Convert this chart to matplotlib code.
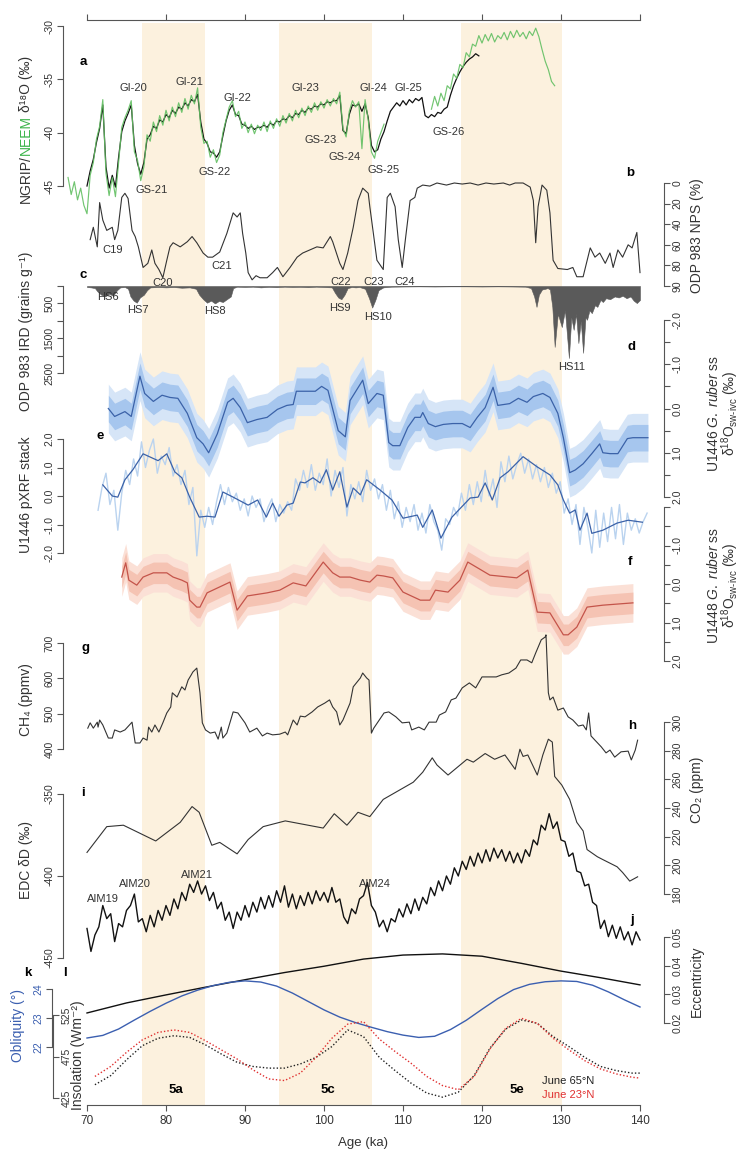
import numpy as np
import matplotlib
matplotlib.use("Agg")
import matplotlib.pyplot as plt

plt.rcParams['font.family'] = ['Liberation Sans', 'DejaVu Sans']
plt.rcParams['mathtext.fontset'] = 'custom'
plt.rcParams['mathtext.rm'] = 'Liberation Sans'
plt.rcParams['mathtext.it'] = 'Liberation Sans:italic'
plt.rcParams['mathtext.bf'] = 'Liberation Sans:bold'

# ====================== DATA ======================
x_ticks = [70, 80, 90, 100, 110, 120, 130, 140]
band_start = [77.0, 94.3, 117.3]
band_end = [84.9, 106.1, 130.1]
band_names = ["5a", "5c", "5e"]

# (a) NEEM / NGRIP d18O (permil), regular sampling
neem_step = 0.4
neem1_start = 67.6
neem1 = [-44.2, -45.8, -44.6, -46.3, -45.2, -46.8, -47.6, -44.0, -42.8, -40.6,
         -39.4, -36.9, -43.8, -45.9, -44.2, -46.0, -42.8, -39.5, -38.6, -37.9,
         -37.0, -41.8, -42.6, -44.5, -43.2, -40.2, -40.8, -39.0, -39.9, -38.4,
         -39.3, -37.9, -38.9, -37.6, -38.5, -37.2, -38.1, -36.8, -37.8, -36.5,
         -37.3, -35.8, -39.5, -41.0, -40.8, -42.3, -41.6, -42.8, -42.1, -40.0,
         -38.8, -37.6, -37.0, -38.5, -38.0, -39.6, -39.0, -40.0, -39.2, -40.1,
         -39.3, -39.8, -39.0, -39.9, -38.9, -39.6, -38.7, -39.4, -38.4, -39.1,
         -38.2, -38.9, -37.9, -38.6, -37.7, -38.4, -37.5, -38.1, -37.2, -37.9,
         -37.1, -37.7, -36.9, -37.5, -36.8, -37.3, -36.2, -39.6, -40.4, -38.0,
         -37.0, -37.6, -37.1, -41.5, -36.9, -38.8, -41.8, -42.4, -40.8, -40.0,
         -39.2]
neem2_start = 113.6
neem2 = [-37.8, -36.6, -37.5, -36.3, -37.0, -35.6, -35.9, -34.5, -34.9, -33.6,
         -33.9, -32.5, -32.9, -31.7, -31.9, -30.9, -31.6, -30.8, -31.4, -30.7,
         -31.5, -30.9, -31.2, -30.6, -31.3, -30.5, -31.1, -30.4, -31.0, -30.6,
         -31.2, -30.5, -30.9, -30.2, -31.0, -32.2, -33.3, -34.1, -35.2, -35.6]
ngrip_start = 70.0
ngrip = [-45.0, -43.6, -42.5, -40.9, -39.6, -37.4, -43.2, -45.2, -44.0, -45.1,
         -42.3, -39.9, -38.9, -38.2, -37.4, -41.2, -42.9, -43.9, -42.8, -40.6,
         -40.2, -39.4, -39.6, -38.8, -39.0, -38.3, -38.6, -37.9, -38.2, -37.6,
         -37.8, -37.2, -37.5, -36.9, -37.1, -36.4, -39.0, -40.6, -41.0, -41.8,
         -41.9, -42.3, -41.8, -40.3, -38.9, -37.9, -37.4, -38.3, -38.4, -39.2,
         -39.3, -39.6, -39.4, -39.7, -39.5, -39.5, -39.3, -39.5, -39.1, -39.3,
         -38.9, -39.0, -38.7, -38.8, -38.4, -38.6, -38.2, -38.3, -37.9, -38.1,
         -37.7, -37.8, -37.5, -37.6, -37.3, -37.4, -37.1, -37.2, -37.0, -37.0,
         -36.5, -39.8, -40.1, -38.3, -37.4, -37.5, -37.3, -38.0, -37.3, -38.6,
         -41.2, -41.8, -41.6, -40.6, -39.9, -38.9, -38.0, -37.6, -37.2, -37.5,
         -37.0, -37.4, -36.9, -37.2, -36.8, -37.0, -36.7, -38.4, -38.6, -38.3,
         -38.5, -38.1, -38.2, -37.8, -37.6, -36.5, -35.6, -34.9, -34.3, -33.8,
         -33.4, -33.1, -32.9, -32.6, -32.8]

# (b) ODP 983 NPS (%)
nps_age = [70.4, 70.8, 71.3, 71.6, 72.0, 72.5, 73.2, 73.5, 73.9, 74.4, 74.8, 75.2, 75.7, 76.1,
           76.5, 77.1, 77.7, 78.2, 78.6, 79.1, 79.6, 80.1, 80.5, 80.9, 81.8, 82.7, 83.3, 83.9,
           84.7, 85.3, 85.9, 86.8, 87.7, 88.5, 89.0, 89.4, 89.7, 90.1, 90.4, 90.9, 91.4, 91.9,
           92.8, 93.5, 94.1, 94.8, 95.7, 96.6, 97.3, 98.2, 99.1, 99.9, 100.8, 101.1, 102.0,
           102.4, 103.0, 103.7, 104.3, 104.9, 105.6, 105.8, 106.7, 107.5, 108.0, 108.4, 109.0,
           109.4, 109.9, 110.3, 110.9, 111.5, 111.8, 112.5, 113.4, 114.3, 115.5, 116.5, 117.5,
           118.5, 119.5, 120.5, 121.5, 122.7, 123.5, 124.2, 125.2, 126.1, 126.5, 126.8, 127.1,
           127.6, 128.2, 128.6, 129.0, 129.6, 130.8, 131.5, 132.0, 132.8, 133.7, 134.3, 134.9,
           135.6, 136.2, 136.6, 137.2, 137.8, 138.5, 139.0, 139.6, 140.0]
nps_val = [55, 43, 62, 19, 36, 46, 43, 55, 46, 14, 10, 15, 46, 52, 62, 82, 78, 65, 78, 84,
           92, 75, 62, 58, 62, 57, 52, 58, 68, 72, 72, 67, 49, 29, 33, 29, 49, 68, 87, 94,
           90, 92, 92, 87, 82, 91, 82, 72, 68, 65, 62, 63, 52, 57, 78, 84, 68, 43, 17, 5,
           10, 23, 75, 84, 14, 10, 23, 55, 82, 55, 17, 14, 5, 2, 3, 0, 2, 0, 1, 0,
           2, 0, 1, 0, 2, 0, 0, 4, 17, 58, 23, 2, 7, 29, 75, 83, 84, 82, 91, 91,
           63, 72, 68, 78, 68, 82, 65, 72, 60, 63, 48, 87]
nps_ticks = [0, 20, 40, 60, 80, 100]
nps_ticklabels = ["0", "20", "40", "60", "80", "90"]

# (c) ODP 983 IRD (grains/g)
ird_age = [70.0, 70.5, 71.0, 71.3, 71.8, 72.3, 72.8, 73.3, 73.8, 74.2, 74.8, 75.2, 75.5, 75.9,
           76.3, 76.7, 77.2, 77.6, 78.0, 79.0, 80.0, 81.0, 82.0, 83.0, 83.8, 84.2, 84.7, 85.2,
           85.7, 86.2, 86.7, 87.2, 87.7, 88.2, 88.5, 89.0, 90.0, 91.0, 92.0, 93.0, 94.0, 95.0,
           96.0, 97.0, 98.0, 99.0, 100.0, 101.0, 101.4, 101.8, 102.2, 102.6, 103.0, 103.5,
           104.0, 104.5, 105.2, 105.7, 106.1, 106.5, 106.9, 107.5, 108.5, 110.0, 112.0, 114.0,
           116.0, 118.0, 120.0, 122.0, 124.0, 125.5, 126.2, 126.6, 126.9, 127.2, 127.6, 128.0,
           128.3, 128.6, 128.9, 129.2, 129.6, 130.1, 130.5, 131.0, 131.3, 131.6, 131.9, 132.2,
           132.5, 132.8, 133.1, 133.3, 133.6, 133.9, 134.3, 134.6, 135.0, 135.3, 135.7, 136.2,
           136.8, 137.3, 137.8, 138.3, 138.8, 139.2, 139.6, 140.0]
ird_val = [30, 40, 60, 150, 250, 300, 220, 280, 120, 40, 30, 80, 300, 420, 480, 330, 250, 120,
           40, 30, 40, 30, 50, 40, 80, 250, 380, 480, 420, 500, 430, 460, 380, 300, 60, 20,
           30, 20, 40, 25, 35, 20, 30, 25, 35, 20, 30, 40, 200, 330, 380, 250, 60, 30, 40, 30,
           80, 350, 620, 400, 120, 40, 20, 15, 10, 15, 10, 10, 15, 10, 15, 20, 60, 300, 600,
           250, 100, 80, 60, 100, 600, 1750, 800, 1180, 700, 2070, 900, 1260, 800, 1640, 1000,
           1920, 900, 970, 700, 780, 550, 600, 400, 460, 350, 380, 300, 330, 280, 350, 300,
           420, 490, 400]

# (d) U1446 d18O sw-ivc
d_age = [72.7, 73.5, 74.8, 75.6, 76.7, 77.3, 78.4, 79.5, 80.5, 81.5, 82.7, 83.9, 84.7, 85.4,
         86.5, 87.8, 88.5, 89.4, 90.3, 91.5, 92.8, 94.1, 95.3, 96.1, 96.5, 98.9, 99.7, 100.5,
         101.8, 102.7, 103.3, 104.9, 105.6, 106.7, 107.5, 108.2, 108.7, 109.6, 110.6, 111.5,
         112.2, 112.5, 113.2, 114.1, 115.1, 116.3, 117.5, 118.5, 119.4, 120.4, 121.4, 122.0,
         123.5, 124.6, 125.7, 126.5, 127.7, 128.6, 129.6, 130.3, 131.1, 131.8, 132.8, 133.9,
         134.9, 135.3, 136.2, 137.2, 138.4, 139.1, 141.0]
d_val = [0.00, 0.18, 0.07, 0.18, -0.73, -0.34, -0.16, -0.30, -0.25, -0.23, 0.11, 0.66, 0.80,
         1.00, 0.57, -0.14, -0.23, -0.02, 0.32, 0.25, 0.20, 0.02, -0.07, -0.09, -0.39, -0.39,
         -0.50, -0.41, 0.50, 0.64, -0.18, -0.64, -0.11, -0.34, -0.30, 0.77, 0.84, 0.84, 0.43,
         0.20, 0.20, 0.09, 0.34, 0.41, 0.36, 0.34, 0.34, 0.43, 0.20, -0.02, -0.48, -0.07,
         -0.11, -0.23, -0.14, -0.27, -0.34, -0.25, 0.11, 0.66, 1.45, 1.39, 1.25, 1.02, 0.80,
         1.00, 1.02, 1.02, 0.68, 0.66, 0.66]

# (e) U1446 pXRF stack
e_age = [72.0, 73.2, 73.9, 74.8, 75.8, 77.1, 79.0, 80.1, 81.1, 82.0, 83.0, 84.2, 85.2, 86.2,
         87.2, 88.5, 90.4, 91.6, 92.7, 93.5, 94.3, 95.3, 96.1, 97.0, 97.6, 98.6, 99.5, 100.3,
         101.1, 102.0, 102.9, 103.7, 104.6, 105.4, 107.1, 108.6, 110.0, 111.8, 112.5, 113.7,
         114.8, 116.2, 118.5, 119.5, 120.4, 121.3, 122.3, 123.3, 125.2, 127.0, 128.6, 129.6,
         130.3, 131.1, 131.8, 132.4, 133.3, 133.9, 135.3, 137.1, 138.5, 140.3]
e_val = [0.39, 0.00, -0.04, 0.57, 0.92, 1.48, 1.24, 1.48, 0.85, 0.64, -0.04, -0.74, -0.71,
         -0.74, 0.14, -0.04, -0.32, -0.14, -0.74, -0.25, -0.71, -0.32, -0.25, 0.49, 0.46, 0.64,
         0.46, 0.92, 0.21, 0.85, -0.39, 0.28, 0.04, 0.57, 0.21, -0.14, -0.78, -0.67, -1.10,
         -0.49, -1.48, -0.74, -0.07, -0.04, 0.46, -0.14, 0.64, 0.85, 1.38, 1.02, 0.74, 0.39,
         -0.14, -0.60, -0.49, -1.20, -0.60, -1.31, -1.20, -0.95, -0.85, -0.92]
e_raw_start, e_raw_step = 71.4, 0.5
e_raw = [-0.5, 0.3, 0.8, -0.3, 0.2, -1.2, 0.1, 0.9, 0.4, 1.3, 0.7, 1.9, 1.0, 1.6, 2.0, 0.8,
         1.4, 1.1, 1.7, 0.7, 1.1, 0.4, 0.9, -0.3, 0.3, -2.1, -0.5, -1.1, -0.4, -1.0, -0.2, 0.4,
         -0.3, 0.3, -0.2, 0.1, -0.5, -0.1, -0.7, 0.0, -0.4, -0.1, -0.9, -0.4, -0.1, -0.9, -0.3,
         -0.6, -0.2, -0.5, 0.6, 0.2, 0.9, 0.3, 1.1, 0.2, 0.8, 0.4, 1.3, 0.0, 0.9, 0.3, 1.0,
         -0.7, 0.4, -0.1, 0.5, -0.2, 0.9, 0.2, 0.6, -0.1, 0.4, -0.5, 0.2, -0.8, -0.2, -1.1,
         -0.4, -0.9, -0.3, -1.2, -0.6, -1.3, -0.3, -0.9, -1.2, -1.9, -0.8, -1.0, -0.4, -0.7,
         0.1, -0.5, 0.4, -0.3, 0.5, -0.2, 0.9, 0.0, 0.6, -0.4, 1.2, 0.5, 1.4, 0.6, 1.1, 1.5,
         0.8, 1.3, 0.6, 1.1, 0.5, 1.0, 0.3, 0.8, 0.1, 0.5, -0.6, -0.1, -1.0, -0.3, -1.7, -0.4,
         -1.1, -2.0, -0.5, -1.8, -0.6, -1.6, -0.4, -1.5, -0.3, -1.7, -0.6, -1.2, -0.8, -1.3,
         -0.9, -0.6]

# (f) U1448 d18O sw-ivc
f_age = [74.4, 74.9, 75.3, 76.3, 77.1, 78.4, 80.1, 80.9, 82.0, 82.7, 83.0, 83.9, 84.3, 85.2,
         88.1, 89.0, 90.3, 92.8, 94.4, 96.1, 97.7, 99.9, 101.1, 102.0, 103.3, 104.6, 105.8,
         106.7, 107.5, 108.7, 110.0, 112.2, 113.4, 114.1, 115.7, 117.2, 118.2, 121.0, 124.4,
         125.8, 127.0, 128.6, 130.3, 130.9, 132.0, 133.3, 135.3, 139.1]
f_val = [-0.18, -0.55, -0.10, 0.03, -0.18, -0.29, -0.29, -0.18, -0.10, -0.03, 0.42, 0.60,
         0.60, 0.23, -0.05, 0.68, 0.31, 0.23, 0.16, -0.03, 0.05, -0.57, -0.29, -0.18, -0.18,
         -0.10, -0.05, -0.23, -0.21, -0.16, 0.21, 0.42, 0.42, 0.16, 0.21, -0.10, -0.57, -0.23,
         -0.16, -0.36, 0.73, 0.75, 1.32, 1.32, 1.12, 0.60, 0.55, 0.49]

# (g) CH4 (ppbv)
ch4_age = [70.1, 70.4, 70.8, 71.3, 71.4, 71.6, 72.0, 72.7, 73.2, 73.5, 74.2, 74.8, 75.7, 76.1,
           76.7, 77.1, 77.6, 77.8, 78.2, 78.6, 79.1, 79.6, 80.1, 80.6, 80.8, 81.4, 82.0, 82.4,
           82.8, 83.2, 83.4, 83.9, 84.3, 84.6, 85.0, 85.6, 86.2, 86.6, 87.0, 87.2, 87.7, 88.5,
           89.1, 90.0, 90.6, 91.5, 92.2, 92.8, 93.5, 94.4, 95.1, 95.4, 96.1, 96.6, 97.0, 97.6,
           98.5, 99.2, 100.1, 100.7, 101.1, 101.6, 102.0, 102.4, 103.3, 103.7, 104.6, 104.9,
           105.4, 105.7, 106.0, 106.3, 107.6, 108.2, 109.1, 109.9, 110.8, 111.1, 112.0, 112.7,
           113.3, 114.2, 114.6, 115.4, 116.1, 116.7, 117.5, 118.4, 119.2, 120.0, 120.9, 121.8,
           122.5, 123.4, 124.3, 124.9, 125.7, 126.3, 126.8, 127.5, 128.0, 128.1, 128.4, 128.6,
           129.0, 129.6, 130.3, 130.9, 131.5, 132.2, 132.8, 133.2, 133.5, 133.8, 134.3, 135.1,
           135.7, 136.2, 136.8, 137.6, 138.5, 138.9, 139.4, 139.7]
ch4_val = [459, 474, 459, 476, 462, 482, 468, 431, 431, 454, 448, 454, 476, 417, 417, 431, 425,
           462, 448, 468, 448, 474, 502, 519, 559, 547, 576, 567, 595, 610, 618, 629, 559, 474,
           454, 445, 448, 428, 462, 431, 445, 505, 502, 474, 448, 459, 437, 445, 440, 442, 448,
           440, 482, 468, 493, 491, 505, 519, 530, 539, 519, 505, 468, 482, 530, 576, 601, 615,
           601, 595, 445, 459, 502, 505, 491, 474, 476, 454, 462, 454, 476, 476, 496, 505, 539,
           544, 573, 587, 573, 604, 604, 604, 610, 615, 629, 652, 652, 644, 672, 709, 717, 723,
           559, 539, 547, 510, 516, 491, 482, 465, 468, 454, 502, 437, 425, 406, 389, 397, 377,
           392, 394, 369, 397, 425]

# (h) CO2 (ppm)
co2_age = [70.0, 72.5, 74.6, 78.7, 81.8, 83.3, 84.2, 85.8, 86.8, 89.0, 90.4, 92.3, 95.1, 99.9,
           101.3, 102.9, 104.3, 105.8, 107.5, 111.3, 112.5, 113.7, 114.3, 115.7, 118.1, 118.9,
           120.4, 121.6, 122.9, 124.2, 124.8, 125.2, 125.8, 127.0, 127.7, 128.4, 128.9, 129.2,
           130.1, 131.1, 132.0, 132.8, 133.3, 134.6, 135.3, 137.1, 137.8, 138.7, 139.7]
co2_val = [209, 227, 228, 217, 230, 241, 237, 214, 216, 208, 218, 227, 231, 226, 236, 228, 237,
           234, 246, 258, 265, 275, 270, 263, 274, 272, 278, 274, 277, 267, 281, 276, 277, 263,
           277, 288, 286, 262, 256, 246, 230, 224, 211, 206, 204, 199, 195, 189, 192]

# (i) EDC dD (permil), regular sampling
edc_start, edc_step = 70.0, 0.5
edc = [-432, -446, -436, -431, -418, -426, -423, -440, -429, -431, -421, -418, -411, -428,
       -426, -434, -424, -431, -421, -427, -418, -424, -414, -420, -410, -415, -405, -410,
       -403, -411, -406, -415, -410, -420, -416, -427, -422, -432, -422, -427, -418, -425,
       -416, -422, -413, -420, -412, -419, -409, -416, -406, -419, -411, -420, -412, -418,
       -410, -417, -409, -415, -410, -416, -407, -416, -414, -425, -429, -420, -423, -414,
       -412, -404, -418, -422, -431, -427, -434, -426, -428, -420, -425, -417, -423, -414,
       -421, -413, -417, -407, -412, -403, -409, -400, -405, -395, -400, -391, -396, -388,
       -394, -386, -392, -384, -391, -383, -389, -384, -391, -385, -392, -386, -392, -384,
       -388, -378, -381, -369, -372, -362, -371, -367, -378, -379, -388, -386, -397, -398,
       -406, -405, -416, -418, -432, -427, -437, -430, -438, -431, -439, -434, -442, -434,
       -439]

# (j) eccentricity, (k) obliquity, (l) June insolation
ecc_age = [70, 75, 80, 85, 90, 95, 100, 105, 110, 115, 120, 125, 130, 135, 140]
ecc_val = [0.0235, 0.0270, 0.0298, 0.0325, 0.0351, 0.0376, 0.0398, 0.0423, 0.0437, 0.0441,
           0.0433, 0.0408, 0.0381, 0.0358, 0.0333]
obl_age = list(range(70, 141, 2))
obl_val = [22.31, 22.40, 22.62, 22.93, 23.23, 23.51, 23.76, 23.96, 24.12, 24.23, 24.28, 24.24,
           24.10, 23.86, 23.57, 23.28, 23.03, 22.84, 22.68, 22.53, 22.41, 22.33, 22.37, 22.60,
           22.92, 23.30, 23.67, 23.98, 24.16, 24.25, 24.28, 24.26, 24.13, 23.90, 23.63, 23.38]
ins_age = list(range(71, 140, 2)) + [140]
ins65 = [441, 452, 471, 488, 497, 500, 498, 489, 478, 468, 463, 461, 461, 466, 474, 487, 507,
         499, 474, 458, 443, 431, 426, 432, 452, 485, 508, 519, 515, 499, 487, 474, 463, 458,
         455, 455]
ins23 = [451, 463, 480, 495, 504, 507, 504, 494, 483, 472, 459, 448, 446, 455, 474, 497, 514,
         517, 496, 481, 467, 451, 440, 435, 451, 484, 509, 521, 515, 497, 483, 470, 460, 454,
         450, 449]

# ====================== FIGURE ======================
W, H = 739, 1150
X0, X1 = 87, 640
fig = plt.figure(figsize=(W / 100, H / 100), dpi=100)

GRAY = '#555555'
TXT = '#333333'
BAND = '#fcf1de'
BLUE = '#3b62a8'
OBLQ = '#3b5fb0'
RED = '#c4544a'
GREEN = '#62bf62'


def fx(x):
    return x / W


def fy(y):
    return 1 - y / H


def T(x, y, s, size=8, color=TXT, weight='normal', rot=0, ha='center', va='center'):
    return fig.text(fx(x), fy(y), s, fontsize=size, color=color, fontweight=weight,
                    rotation=rot, ha=ha, va=va)


# background axis with bands
bg = fig.add_axes([fx(X0), fy(1105), fx(X1 - X0), (1105 - 20) / H])
bg.set_xlim(70, 140)
bg.set_ylim(0, 1)
bg.patch.set_visible(False)
for s in ('left', 'right'):
    bg.spines[s].set_visible(False)
for s in ('top', 'bottom'):
    bg.spines[s].set_color(GRAY)
    bg.spines[s].set_linewidth(0.8)
bg.set_yticks([])
bg.set_xticks(x_ticks)
bg.tick_params(axis='x', top=True, bottom=True, labeltop=False, direction='out', length=4,
               width=0.8, color=GRAY, labelsize=8.5, labelcolor=TXT, pad=3)
for a0, a1 in zip(band_start, band_end):
    bg.axvspan(a0, a1, ymin=0, ymax=1 - 3 / 1085, color=BAND, lw=0, zorder=0)
T(363, 1143, "Age (ka)", size=9.5)


def panel(ytop, ybot, vtop, vbot, side, ticks, labels, offset=24, color=GRAY, lcolor=TXT):
    ax = fig.add_axes([fx(X0), fy(ybot), fx(X1 - X0), (ybot - ytop) / H])
    ax.set_xlim(70, 140)
    ax.set_ylim(vbot, vtop)
    ax.patch.set_visible(False)
    ax.set_xticks([])
    for s in ax.spines.values():
        s.set_visible(False)
    sp = ax.spines[side]
    sp.set_visible(True)
    sp.set_color(color)
    sp.set_linewidth(0.8)
    if isinstance(offset, tuple):
        sp.set_position(offset)
    else:
        sp.set_position(('outward', offset * 0.72))
    if side == 'left':
        ax.yaxis.tick_left()
    else:
        ax.yaxis.tick_right()
    ax.set_yticks(ticks)
    ax.set_yticklabels(labels)
    ax.tick_params(axis='y', direction='out', length=4, width=0.8, color=color,
                   labelsize=7.5, labelcolor=lcolor, pad=2)
    for t in ax.get_yticklabels():
        t.set_rotation(90)
        t.set_va('center')
    return ax


def reg_ages(start, step, vals):
    return start + step * np.arange(len(vals))


# ---- (a) NGRIP / NEEM
axa = panel(26, 186, -30, -45, 'left', [-30, -35, -40, -45], ["-30", "-35", "-40", "-45"])
axa.plot(reg_ages(ngrip_start, neem_step, ngrip), ngrip, color='#111111', lw=0.9, clip_on=False)
axa.plot(reg_ages(neem1_start, neem_step, neem1), neem1, color=GREEN, lw=0.85, alpha=0.9,
         clip_on=False)
axa.plot(reg_ages(neem2_start, neem_step, neem2), neem2, color=GREEN, lw=0.85, alpha=0.9,
         clip_on=False)

# ---- (b) NPS
axb = panel(183, 286, 0, 100, 'right', nps_ticks, nps_ticklabels)
axb.plot(nps_age, nps_val, color='#333333', lw=0.8, clip_on=False)

# ---- (c) IRD
axc = panel(286, 373, 0, 2500, 'left', [0, 500, 1000, 1500, 2000, 2500],
            ["", "500", "", "1500", "", "2500"])
axc.fill_between(ird_age, 0, ird_val, color='#5a5a5a', lw=0.4, clip_on=False)

# ---- (d) U1446 d18Osw
axd = panel(320, 497, -2, 2, 'right', [-2, -1.5, -1, -0.5, 0, 0.5, 1, 1.5, 2],
            ["-2.0", "", "-1.0", "", "0.0", "", "1.0", "", "2.0"])
dv = np.array(d_val)
axd.fill_between(d_age, dv - 0.55, dv + 0.55, color='#d6e5f7', lw=0, clip_on=False)
axd.fill_between(d_age, dv - 0.3, dv + 0.3, color='#a6c6ee', lw=0, clip_on=False)
axd.plot(d_age, d_val, color=BLUE, lw=0.9, clip_on=False)

# ---- (e) pXRF
axe = panel(439, 553, 2, -2, 'left', [2, 1, 0, -1, -2], ["2.0", "1.0", "0.0", "-1.0", "-2.0"])
axe.plot(reg_ages(e_raw_start, e_raw_step, e_raw), e_raw, color='#bad3ef', lw=1.0, clip_on=False)
axe.plot(e_age, e_val, color=BLUE, lw=0.9, clip_on=False)

# ---- (f) U1448 d18Osw
axf = panel(507, 661, -2, 2, 'right', [-2, -1.5, -1, -0.5, 0, 0.5, 1, 1.5, 2],
            ["", "", "-1.0", "", "0.0", "", "1.0", "", "2.0"])
fv = np.array(f_val)
axf.fill_between(f_age, fv - 0.5, fv + 0.5, color='#fbe0d6', lw=0, clip_on=False)
axf.fill_between(f_age, fv - 0.28, fv + 0.28, color='#f5c3b3', lw=0, clip_on=False)
axf.plot(f_age, f_val, color=RED, lw=0.9, clip_on=False)

# ---- (g) CH4
axg = panel(643, 749, 700, 400, 'left', [400, 500, 600, 700], ["400", "500", "600", "700"])
axg.plot(ch4_age, ch4_val, color='#333333', lw=0.8, clip_on=False)

# ---- (h) CO2
axh = panel(722, 894, 300, 180, 'right', [180, 200, 220, 240, 260, 280, 300],
            ["180", "200", "220", "240", "260", "280", "300"])
axh.plot(co2_age, co2_val, color='#333333', lw=0.8, clip_on=False)

# ---- (i) EDC dD
axi = panel(794, 958, -350, -450, 'left', [-350, -400, -450], ["-350", "-400", "-450"])
axi.plot(reg_ages(edc_start, edc_step, edc), edc, color='#111111', lw=1.0, clip_on=False)

# ---- (j) eccentricity
axj = panel(937, 1023, 0.05, 0.02, 'right', [0.02, 0.03, 0.04, 0.05],
            ["0.02", "0.03", "0.04", "0.05"])
axj.plot(ecc_age, ecc_val, color='#111111', lw=1.0, clip_on=False)

# ---- (k) obliquity
axk = panel(989, 1047, 24, 22, 'left', [22, 23, 24], ["22", "23", "24"], offset=35,
            lcolor=OBLQ)
axk.plot(obl_age, obl_val, color=OBLQ, lw=1.0, clip_on=False)

# ---- (l) insolation
axl = panel(1015, 1098, 525, 425, 'right', [425, 475, 525], ["425", "475", "525"],
            offset=('axes', (53 - X0) / (X1 - X0)))
axl.plot(ins_age, ins65, color='#222222', lw=1.0, ls=(0, (1, 1.5)), clip_on=False)
axl.plot(ins_age, ins23, color='#e03030', lw=1.0, ls=(0, (1, 1.5)), clip_on=False)

# ====================== TEXT ======================
r = fig.canvas.get_renderer()
ybase = 203
for piece, col, gap in zip(["NGRIP/", "NEEM", "δ¹⁸O (‰)"], [TXT, '#3cb44b', TXT], [0, 0, 3]):
    ybase -= gap
    t = fig.text(fx(26), fy(ybase), piece, rotation=90, ha='center', va='bottom',
                 fontsize=10, color=col)
    ybase -= t.get_window_extent(renderer=r).height

T(26, 331, "ODP 983 IRD (grains g⁻¹)", size=10, rot=90)
T(26, 495, "U1446 pXRF stack", size=10, rot=90)
T(26, 700, "CH₄ (ppmv)", size=10, rot=90)
T(26, 860, "EDC δD (‰)", size=10, rot=90)
T(18, 1025, "Obliquity (°)", size=10, rot=90, color=OBLQ)
T(78, 1055, "Insolation (Wm⁻²)", size=10, rot=90)

T(697, 236, "ODP 983 NPS (%)", size=10, rot=90)
T(713, 413, r"U1446 $\it{G.\ ruber}$ ss", size=10, rot=90)
T(730, 413, r"δ$^{18}$O$_{\text{sw-ivc}}$ (‰)", size=10, rot=90)
T(713, 585, r"U1448 $\it{G.\ ruber}$ ss", size=10, rot=90)
T(730, 585, r"δ$^{18}$O$_{\text{sw-ivc}}$ (‰)", size=10, rot=90)
T(697, 790, "CO₂ (ppm)", size=10, rot=90)
T(697, 981, "Eccentricity", size=10, rot=90)

for s, x, y in [("a", 83, 62), ("b", 630, 173), ("c", 83, 275), ("d", 632, 347),
                ("e", 100, 436), ("f", 630, 562), ("g", 85, 648), ("h", 632, 726),
                ("i", 83, 793), ("j", 632, 920), ("k", 28, 973), ("l", 65, 973)]:
    T(x, y, s, size=9.5, color='black', weight='bold')

for s, x, y in [("GI-20", 133, 88), ("GI-21", 189, 82), ("GI-22", 237, 98), ("GI-23", 305, 88),
                ("GI-24", 373, 88), ("GI-25", 408, 88), ("GS-21", 152, 190), ("GS-22", 215, 172),
                ("GS-23", 321, 140), ("GS-24", 345, 157), ("GS-25", 384, 170), ("GS-26", 449, 132),
                ("C19", 113, 250), ("C20", 163, 283), ("C21", 222, 266), ("C22", 341, 282),
                ("C23", 374, 282), ("C24", 405, 282),
                ("HS6", 108, 297), ("HS7", 138, 310), ("HS8", 215, 311), ("HS9", 340, 308),
                ("HS10", 378, 317), ("HS11", 572, 367),
                ("AIM19", 103, 899), ("AIM20", 135, 884), ("AIM21", 197, 875), ("AIM24", 375, 884)]:
    T(x, y, s, size=8)

for s, x in zip(band_names, [176, 328, 517]):
    T(x, 1090, s, size=9.5, color='black', weight='bold')

T(542, 1081, "June 65°N", size=8, color='#222222', ha='left')
T(542, 1095, "June 23°N", size=8, color='#e03030', ha='left')

fig.savefig("out.png", dpi=100)
